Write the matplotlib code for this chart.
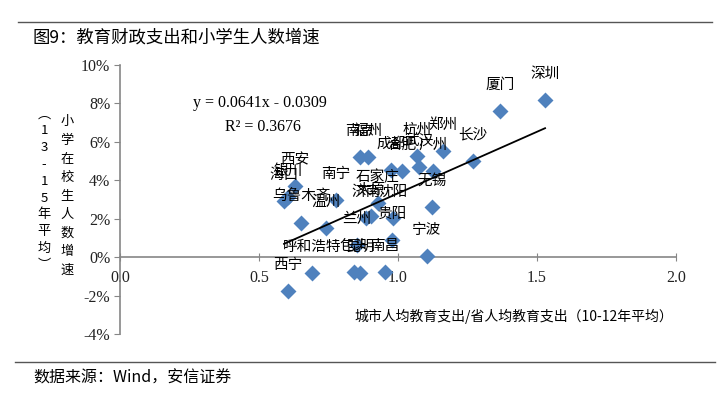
import numpy as np
import matplotlib.pyplot as plt
from matplotlib.ticker import FuncFormatter

# city labels, x = city/province per-capita education spending ratio, y = pupil growth (%)
cities = ["深圳", "厦门", "长沙", "郑州", "杭州", "武汉", "广州", "合肥", "成都",
          "南京", "福州", "无锡", "宁波", "沈阳", "贵阳", "石家庄", "南宁", "济南",
          "太原", "西安", "海口", "银川", "乌鲁木齐", "温州", "兰州", "呼和浩特",
          "包头", "昆明", "南昌", "西宁"]
ratio = [1.529, 1.367, 1.270, 1.162, 1.068, 1.076, 1.126, 1.014, 0.975,
         0.863, 0.892, 1.122, 1.104, 0.982, 0.978, 0.928, 0.777, 0.885,
         0.903, 0.629, 0.590, 0.605, 0.651, 0.741, 0.853, 0.691,
         0.842, 0.863, 0.953, 0.604]
growth = [8.18, 7.60, 5.00, 5.52, 5.26, 4.69, 4.48, 4.48, 4.53,
          5.21, 5.21, 2.60, 0.05, 2.03, 0.89, 2.81, 2.97, 2.03,
          2.14, 3.70, 2.92, 3.13, 1.77, 1.51, 0.63, -0.83,
          -0.78, -0.83, -0.78, -1.77]

slope, intercept = 0.0641, -0.0309
r2 = 0.3676

xticks = [0.0, 0.5, 1.0, 1.5, 2.0]
yticks = [-4, -2, 0, 2, 4, 6, 8, 10]

cjk = ['Noto Sans CJK SC', 'DejaVu Sans']
serif = ['Liberation Serif', 'DejaVu Serif']

fig = plt.figure(figsize=(7.2, 3.98), dpi=100)
ax = fig.add_axes([120/720, 1-334/398, 556/720, 269/398])

x = np.array(ratio)
y = np.array(growth)
ax.scatter(x, y, marker='D', s=66, color='#4F81BD', zorder=3, linewidths=0)

# trend line over data range
xl = np.array([x.min(), x.max()])
ax.plot(xl, (slope*xl + intercept)*100, color='black', lw=1.3, zorder=4)

for name, xi, yi in zip(cities, x, y):
    ax.annotate(name, (xi, yi), xytext=(0, 19), textcoords='offset points',
                ha='center', va='center', fontsize=10.5, family=cjk, zorder=5)

ax.text(0.263, 8.0, f"y = {slope}x - {abs(intercept)}", fontsize=11.5,
        family=serif, va='center')
ax.text(0.378, 6.77, f"R² = {r2}", fontsize=11.5, family=serif, va='center')

ax.set_xlim(0, 2.0)
ax.set_ylim(-4, 10)
ax.set_xticks(xticks)
ax.set_yticks(yticks)
ax.xaxis.set_major_formatter(FuncFormatter(lambda v, p: f"{v:.1f}"))
ax.yaxis.set_major_formatter(FuncFormatter(lambda v, p: f"{v:.0f}%"))

for s in ['top', 'right']:
    ax.spines[s].set_visible(False)
ax.spines['bottom'].set_position(('data', 0))
for s in ['left', 'bottom']:
    ax.spines[s].set_color('#868686')
    ax.spines[s].set_linewidth(1.2)
ax.tick_params(axis='both', labelsize=11.5, labelcolor='#222222',
               labelfontfamily='Liberation Serif')
ax.tick_params(axis='y', direction='out', length=4, color='#868686', pad=3)
ax.tick_params(axis='x', direction='inout', length=6, color='#868686', pad=6)
ax.patch.set_alpha(0)

ax.text(0.995, 0.067, "城市人均教育支出/省人均教育支出（10-12年平均）",
        transform=ax.transAxes, ha='right', va='center', fontsize=10, family=cjk)

# vertical y-axis title
col1 = "小学在校生人数增速"
col2 = ["︵", "1", "3", "-", "1", "5", "年", "平", "均", "︶"]
for i, ch in enumerate(col1):
    fig.text(67/720, 1-(122 + i*18.5)/398, ch, ha='center', va='center', fontsize=9.5, family=cjk)
for i, ch in enumerate(col2):
    fig.text(44/720, 1-(114 + i*16.8)/398, ch, ha='center', va='center', fontsize=9.5, family=cjk)

# title, rules and source
fig.add_artist(plt.Line2D([18/720, 712/720], [1-22/398, 1-22/398], color='#555555', lw=1))
fig.text(33/720, 1-38/398, "图9：教育财政支出和小学生人数增速", ha='left', va='center',
         fontsize=12.5, family=cjk)
fig.add_artist(plt.Line2D([15/720, 715/720], [1-362/398, 1-362/398], color='#555555', lw=1))
fig.text(33/720, 1-378/398, "数据来源：Wind，安信证券", ha='left', va='center',
         fontsize=11.5, family=cjk)

fig.savefig("out.png", dpi=100)
